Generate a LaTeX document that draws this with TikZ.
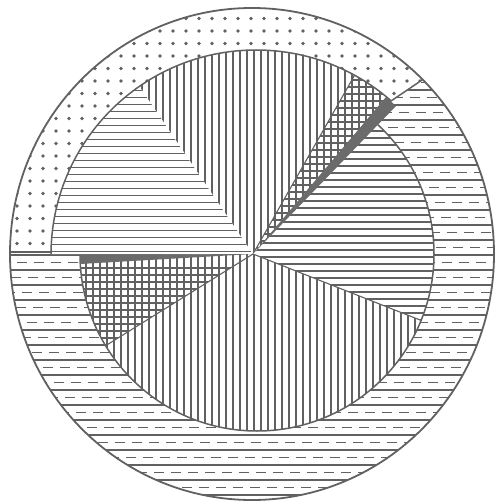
\documentclass[tikz,border=0pt]{standalone}
\usetikzlibrary{calc}
\definecolor{ink}{gray}{0.38}
\definecolor{band}{gray}{0.42}
\tikzset{
  hatchline/.style={draw=ink, line width=1.35pt},
  edgeline/.style={draw=ink, line width=1.5pt},
  dashrow/.style={draw=ink, line width=1.8pt, dash pattern=on 10pt off 7pt},
  thickband/.style={fill=band},
  dotmark/.style={fill=ink},
}
\begin{document}
\begin{tikzpicture}[x=1pt,y=-1pt]
\useasboundingbox (0,0) rectangle (495,503);
\fill[white] (0,0) rectangle (495,503);
% key points (pixel coordinates, y downwards)
\coordinate (H) at (253,254);   % hub of the sectors
\coordinate (O) at (252,254);   % centre of outer circle
\coordinate (U) at (256,255);   % centre of upper inner arc
\coordinate (L) at (257,254);   % centre of lower inner arc
\coordinate (P) at (391,101);   % end of thick diagonal
\coordinate (Q) at (428,76);    % divider towards outer circle
\coordinate (Qf) at ($(P)!3!(Q)$);
\coordinate (W1) at (5,252);    % left divider, outer end
\coordinate (W2) at (52,252);   % left divider, inner end
\coordinate (B1) at (110,343);  % lower boundary, left
\coordinate (B2) at (415,318);  % lower boundary, right
\coordinate (C60) at (353,78);  % crosshatch boundary, upper
\coordinate (Pf) at ($(H)!3.27!(P)$);
\coordinate (C60f) at ($(H)!2.85!(C60)$);
\coordinate (A124f) at (-86,-247);
\coordinate (B1f) at ($(H)!2.5!(B1)$);
\coordinate (B2f) at ($(H)!3!(B2)$);

% ---- dashed band everywhere inside the outer circle
\begin{scope}
  \clip (O) ellipse [x radius=242, y radius=246];
  \foreach \k in {-17,...,17}{
    \pgfmathsetmacro\ph{mod(abs(\k)*6,17)}
    \draw[hatchline] (0,255+15*\k) -- (495,255+15*\k);
    \draw[dashrow, dash phase=\ph pt] (0,262.5+15*\k) -- (495,262.5+15*\k);
  }
\end{scope}

% ---- dotted band (upper left)
\begin{scope}
  \clip (O) ellipse [x radius=242, y radius=246];
  \clip (-20,252) -- (H) -- (P) -- (Qf) -- (520,-20) -- (-20,-20) -- cycle;
  \fill[white] (0,0) rectangle (495,503);
  \foreach \i in {0,...,38}{
    \foreach \j in {0,...,20}{
      \fill[dotmark] (4+13*\i, 6+12.5*\j) circle [radius=1.8];
    }
  }
\end{scope}

% ---- upper inner sectors
\begin{scope}
  \clip (U) circle [radius=205];
  % horizontal hatch
  \begin{scope}
    \clip (H) -- (-100,254) -- (A124f) -- cycle;
    \fill[white] (0,0) rectangle (495,503);
    \foreach \y in {6.3,13.3,...,260}{\draw[hatchline] (0,\y) -- (495,\y);}
  \end{scope}
  % vertical hatch
  \begin{scope}
    \clip (H) -- (A124f) -- (C60f) -- cycle;
    \fill[white] (0,0) rectangle (495,503);
    \foreach \x in {2,9,...,495}{\draw[hatchline] (\x,0) -- (\x,260);}
  \end{scope}
  % crosshatch
  \begin{scope}
    \clip (H) -- (C60f) -- (Pf) -- cycle;
    \fill[white] (0,0) rectangle (495,503);
    \foreach \x in {2,9,...,495}{\draw[hatchline] (\x,0) -- (\x,260);}
    \foreach \y in {3,10,...,260}{\draw[hatchline] (0,\y) -- (495,\y);}
  \end{scope}
  \draw[edgeline, line width=1.1pt] (H) -- (C60f);
\end{scope}

% ---- lower inner sectors
\begin{scope}
  \clip (L) circle [radius=177];
  % crosshatch
  \begin{scope}
    \clip (H) -- (-100,258) -- (B1f) -- cycle;
    \fill[white] (0,0) rectangle (495,503);
    \foreach \x in {2,9,...,495}{\draw[hatchline] (\x,250) -- (\x,503);}
    \foreach \y in {268,275,...,503}{\draw[hatchline] (0,\y) -- (495,\y);}
  \end{scope}
  % vertical hatch
  \begin{scope}
    \clip (H) -- (B1f) -- (-104,700) -- (739,700) -- (B2f) -- cycle;
    \fill[white] (0,0) rectangle (495,503);
    \foreach \x in {2,9,...,495}{\draw[hatchline] (\x,240) -- (\x,503);}
  \end{scope}
  % horizontal hatch (right)
  \begin{scope}
    \clip (H) -- (B2f) -- (739,-52) -- (Pf) -- cycle;
    \fill[white] (0,0) rectangle (495,503);
    \foreach \y in {5,12,...,503}{\draw[hatchline] (0,\y) -- (495,\y);}
  \end{scope}
  \draw[edgeline, line width=1.1pt] (H) -- (B1f);
  \draw[edgeline, line width=1.1pt] (H) -- (B2f);
\end{scope}

% ---- outlines
\begin{scope}
  \clip (H) -- (-100,254) -- (-100,-300) -- (704,-300) -- (Pf) -- cycle;
  \draw[edgeline] (U) circle [radius=205];
\end{scope}
\begin{scope}
  \clip (H) -- (Pf) -- (800,-52) -- (800,800) -- (-100,800) -- (-100,258) -- cycle;
  \draw[edgeline] (L) circle [radius=177];
\end{scope}
\begin{scope}
  \clip (O) ellipse [x radius=242, y radius=246];
  \draw[edgeline] (W1) -- (W2);
  \draw[edgeline] (P) -- (Q);
\end{scope}
\draw[edgeline, line width=1.8pt] (O) ellipse [x radius=242, y radius=246];

% ---- thick tapered bands
\fill[thickband] (80,255) -- (H) -- (80,264) -- cycle;
\fill[thickband] (H) -- (386,97) -- (396,106) -- cycle;
\end{tikzpicture}
\end{document}
